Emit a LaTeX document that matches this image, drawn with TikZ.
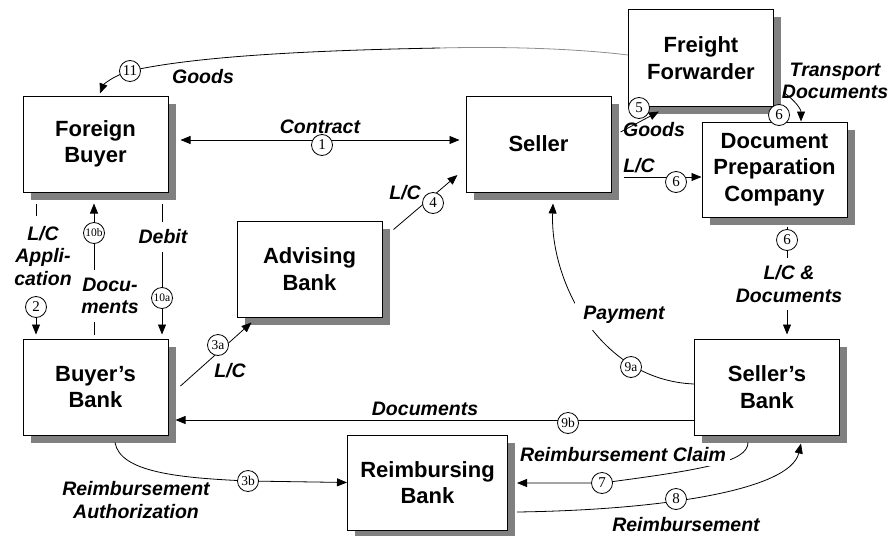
\documentclass[tikz,border=0pt]{standalone}
\usepackage{fontspec}
\setmainfont{Liberation Sans}
\newfontfamily\numfont{Liberation Serif}
\usetikzlibrary{arrows.meta,calc,shadows}
\pgfdeclarelayer{front}
\pgfsetlayers{main,front}

\begin{document}
\begin{tikzpicture}[x=1pt,y=-1pt,
  box/.style={draw,line width=1pt,fill=white,minimum width=145pt,minimum height=96pt,
    align=center,font=\fontsize{22}{26.5}\selectfont\bfseries,
    drop shadow={shadow xshift=7.5pt,shadow yshift=-7.5pt,fill=gray,opacity=1}},
  lbl/.style={font=\fontsize{19.5}{22.5}\selectfont\bfseries\itshape,align=center,inner sep=1pt},
  gap/.style={lbl,fill=white,inner xsep=4pt,inner ysep=8pt},
  num/.style={circle,draw,fill=white,line width=0.8pt,minimum size=21pt,inner sep=0pt,
    font=\numfont\fontsize{15}{15}\selectfont},
  numsm/.style={num,font=\numfont\fontsize{13.5}{13.5}\selectfont},
  numxs/.style={num,font=\numfont\fontsize{11.5}{11.5}\selectfont},
  link/.style={line width=0.8pt},
  tip/.tip={Triangle[length=10pt,width=8pt]},
  arr/.style={link,-tip},
]
\useasboundingbox (0,0) rectangle (893,535);

% parties
\node[box] (fb) at (95.5,144) {Foreign\\Buyer};
\node[box] (ab) at (309.5,269) {Advising\\Bank};
\node[box] (bb) at (95.5,387) {Buyer’s\\Bank};
\node[box,minimum width=160pt,minimum height=95pt] (rb) at (427.5,482.5) {Reimbursing\\Bank};
\node[box] (se) at (538.5,144) {Seller};
\node[box] (ff) at (701,58) {Freight\\Forwarder};
\node[box,minimum height=95pt] (dp) at (774.5,169.5) {Document\\Preparation\\Company};
\node[box] (sb) at (767,387) {Seller’s\\Bank};

\begin{pgfonlayer}{front}
% step numbers
\node[num]   (c1)   at (322,145) {1};
\node[num]   (c11)  at (130,71)  {11};
\node[num]   (c2)   at (36,307)  {2};
\node[numxs] (c10b) at (94,233)  {10b};
\node[numxs] (c10a) at (162,298) {10a};
\node[numsm] (c3a)  at (218,345) {3a};
\node[num]   (c4)   at (433,203) {4};
\node[num]   (c5)   at (639,108) {5};
\node[num]   (c6a)  at (779,115) {6};
\node[num]   (c6b)  at (676,182) {6};
\node[num]   (c6c)  at (787,240) {6};
\node[numsm] (c9a)  at (631,367) {9a};
\node[numsm] (c9b)  at (568,423) {9b};
\node[numsm] (c3b)  at (248,481) {3b};
\node[num]   (c7)   at (602,483) {7};
\node[num]   (c8)   at (676,499) {8};

% flow labels
\node[lbl] (l1)   at (320,127) {Contract};
\node[lbl] (l11)  at (203,77)  {Goods};
\node[gap,inner ysep=10pt] (l2) at (43,256) {L/C\\Appli-\\cation};
\node[gap] (l10b) at (110,296) {Docu-\\ments};
\node[gap] (l10a) at (163,237) {Debit};
\node[lbl] (l3a)  at (230,371) {L/C};
\node[lbl] (l4)   at (405,193) {L/C};
\node[lbl] (l5)   at (654,130) {Goods};
\node[lbl] (l6a)  at (835,81)  {Transport\\Documents};
\node[lbl] (l6b)  at (639,166) {L/C};
\node[gap] (l6c)  at (789,284) {L/C \&\\Documents};
\node[gap,inner xsep=8pt,inner ysep=6pt] (l9a) at (624,315) {Payment};
\node[lbl] (l9b)  at (425,409) {Documents};
\node[lbl] (l3b)  at (136,500) {Reimbursement\\Authorization};
\node[gap,inner ysep=4pt] (l7) at (623,455) {Reimbursement Claim};
\node[lbl] (l8)   at (686,525) {Reimbursement};
\end{pgfonlayer}

% connectors
\draw[link,tip-tip] ($(fb.east)+(12,-4)$) -- ($(se.west)+(-6,-4)$);

\coordinate (m11) at (440,48);
\draw[link,black!45] ($(ff.west)+(0,-3)$) .. controls +(-40,-5) and +(80,-2) .. (m11);
\draw[arr] (m11) .. controls +(-110,2) and +(70,-16) .. (c11.center)
  .. controls +(-18,5) and +(3,-8) .. ($(fb.north)+(4.5,-2)$);

\draw[arr] ($(fb.south)+(-59.5,11)$) -- ($(bb.north)+(-59.5,-4)$);
\draw[arr] ($(bb.north)+(-1.5,-4)$) -- ($(fb.south)+(-1.5,11)$);
\draw[arr] ($(fb.south)+(66.5,11)$) -- ($(bb.north)+(66.5,-4)$);

\draw[arr] ($(bb.east)+(12,-1)$) -- ($(ab.south west)+(15,5)$);
\draw[arr] ($(ab.north east)+(11,9)$) -- ($(se.west)+(-8,31)$);

\draw[arr] ($(se.east)+(9,-12)$) -- ($(ff.south west)+(31,5)$);
\draw[arr] ($(ff.east)+(9,34)$) .. controls +(12,8) and +(0,-12) .. ($(dp.north)+(26.5,0)$);
\draw[arr] ($(se.east)+(12,33)$) -- ($(dp.west)+(0,7.5)$);
\draw[arr] ($(dp.south)+(12.5,9)$) -- ($(sb.north)+(20,-4)$);

\draw[arr] ($(sb.west)+(0,-3)$) .. controls +(-95,-4) and +(-3,77) .. ($(se.south)+(14.5,11)$);
\draw[arr] ($(sb.west)+(0,33)$) -- ($(bb.east)+(7,33)$);

\draw[arr] ($(bb.south)+(19.5,7)$) .. controls +(5,30) and +(-68,-3) .. (c3b.center) -- (rb.west);
\draw[arr] ($(sb.south)+(-19,7)$) .. controls +(0,20) and +(98,-13) .. (c7.center) -- ($(rb.east)+(9,0.5)$);
\draw[arr] ($(rb.east)+(9,29.5)$) .. controls +(143,-2) and +(-11,47) .. ($(sb.south)+(34,8)$);
\end{tikzpicture}
\end{document}
